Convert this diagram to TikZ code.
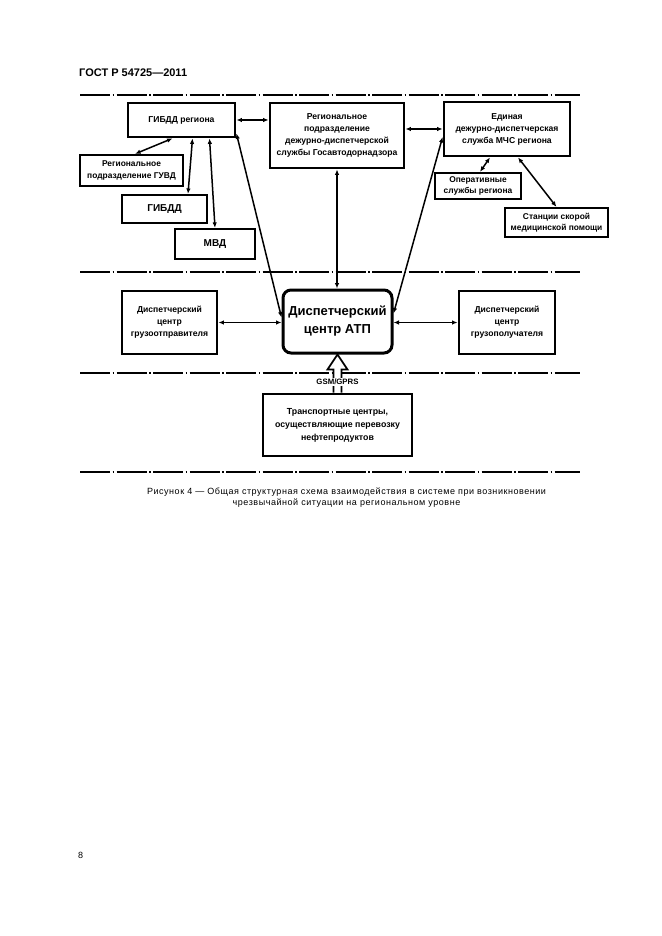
\documentclass[tikz,border=0pt]{standalone}
\usepackage{fontspec}
\setmainfont{Liberation Sans}
\newfontfamily\capfont[LetterSpace=6]{Liberation Sans}
\usetikzlibrary{calc,arrows.meta}
\begin{document}
\begin{tikzpicture}[x=1pt,y=-1pt,
  mainbox/.style={draw,line width=2.8pt,align=center,inner sep=1pt,
    font=\bfseries\fontsize{8.6}{12}\selectfont},
  smallbox/.style={draw,line width=2.2pt,align=center,inner sep=1pt,
    font=\bfseries\fontsize{8.4}{11.5}\selectfont},
  arr/.style={{Latex[length=5.5pt,width=4.5pt]}-{Latex[length=5.5pt,width=4.5pt]},line width=1.5pt},
  sepline/.style={line width=1.7pt,dash pattern=on 30pt off 2.5pt on 1.5pt off 2.5pt},
  hollow/.style={line width=1.7pt,fill=white,line join=miter}]
\useasboundingbox (0,0) rectangle (661,936);

% header
\node[anchor=west,font=\bfseries\fontsize{11}{13}\selectfont,inner sep=0] (hdr) at (79,73) {ГОСТ Р 54725—2011};

% separator lines
\coordinate (l1a) at (80,95);  \coordinate (l1b) at (580,95);
\coordinate (l2a) at (80,272); \coordinate (l2b) at (580,272);
\coordinate (l3a) at (80,373); \coordinate (l3b) at (580,373);
\coordinate (l4a) at (80,472); \coordinate (l4b) at (580,472);
\draw[sepline] (l1a) -- (l1b);
\draw[sepline] (l2a) -- (l2b);
\draw[sepline] (l3a) -- (l3b);
\draw[sepline] (l4a) -- (l4b);

% boxes
\node[mainbox,minimum width=107pt,minimum height=34pt] (gibddreg) at (181.5,120) {ГИБДД региона};
\node[mainbox,minimum width=134pt,minimum height=65pt] (regpodr) at (337,135.5) {Региональное\\подразделение\\дежурно-диспетчерской\\службы Госавтодорнадзора};
\node[mainbox,minimum width=126pt,minimum height=54pt] (mchs) at (507,129) {Единая\\дежурно-диспетчерская\\служба МЧС региона};
\node[smallbox,minimum width=103pt,minimum height=31pt] (guvd) at (131.5,170.5) {Региональное\\подразделение ГУВД};
\node[smallbox,minimum width=85pt,minimum height=28pt,font=\bfseries\fontsize{10}{12}\selectfont] (gibdd) at (164.5,209) {ГИБДД};
\node[smallbox,minimum width=80pt,minimum height=30pt,font=\bfseries\fontsize{10}{12}\selectfont] (mvd) at (215,244) {МВД};
\node[smallbox,minimum width=86pt,minimum height=26pt] (oper) at (478,186) {Оперативные\\службы региона};
\node[smallbox,minimum width=103pt,minimum height=29pt] (skor) at (556.5,222.5) {Станции скорой\\медицинской помощи};
\node[mainbox,minimum width=95pt,minimum height=63pt] (gruzotp) at (169.5,322.5) {Диспетчерский\\центр\\грузоотправителя};
\node[mainbox,line width=3pt,rounded corners=8pt,minimum width=109pt,minimum height=63pt,font=\bfseries\fontsize{13}{18}\selectfont] (atp) at (337.5,321.5) {Диспетчерский\\центр АТП};
\node[mainbox,minimum width=96pt,minimum height=63pt] (gruzpol) at (507,322.5) {Диспетчерский\\центр\\грузополучателя};
\node[mainbox,minimum width=149pt,minimum height=62pt,font=\bfseries\fontsize{8.8}{13}\selectfont] (trans) at (337.5,425) {Транспортные центры,\\осуществляющие перевозку\\нефтепродуктов};

% connectors
\draw[arr] (gibddreg.east) -- (gibddreg.east -| regpodr.west);
\draw[arr] (mchs.west -| regpodr.east) -- (mchs.west);
\draw[arr] ([xshift=-9pt]gibddreg.south) -- ([xshift=3.5pt]guvd.north);
\draw[arr] ([xshift=11pt]gibddreg.south) -- ([xshift=23.5pt]gibdd.north);
\draw[arr] ([xshift=28pt]gibddreg.south) -- (mvd.north);
\draw[arr] ([yshift=5pt]gibddreg.south east) -- ([yshift=4pt]atp.west);
\draw[arr] (regpodr.south) -- (regpodr.south |- atp.north);
\draw[arr] ([yshift=-8pt]mchs.west) -- ([yshift=8pt]atp.east);
\draw[arr] ([xshift=-17pt]mchs.south) -- ([xshift=2pt]oper.north);
\draw[arr] ([xshift=11pt]mchs.south) -- (skor.north);
\draw[arr] (gruzotp.east) -- (gruzotp.east -| atp.west);
\draw[arr] (gruzpol.west -| atp.east) -- (gruzpol.west);

% hollow arrow
\draw[hollow] ($(trans.north)+(-4,0)$) -- ($(atp.south)+(-4,15)$) -- ($(atp.south)+(-10,15)$)
  -- (atp.south) -- ($(atp.south)+(10,15)$) -- ($(atp.south)+(4,15)$) -- ($(trans.north)+(4,0)$);
\node[fill=white,inner sep=0.6pt,font=\bfseries\fontsize{7.8}{9}\selectfont] (gsm) at (337.5,382) {GSM/GPRS};

% caption
\node[align=center,font={\capfont\fontsize{9}{11}\selectfont},inner sep=0] (cap) at (346.5,497.5) {Рисунок 4 — Общая структурная схема взаимодействия в системе при возникновении\\чрезвычайной ситуации на региональном уровне};

% page number
\node[anchor=west,font=\fontsize{9}{11}\selectfont,inner sep=0] (pg) at (78,855) {8};
\end{tikzpicture}
\end{document}
